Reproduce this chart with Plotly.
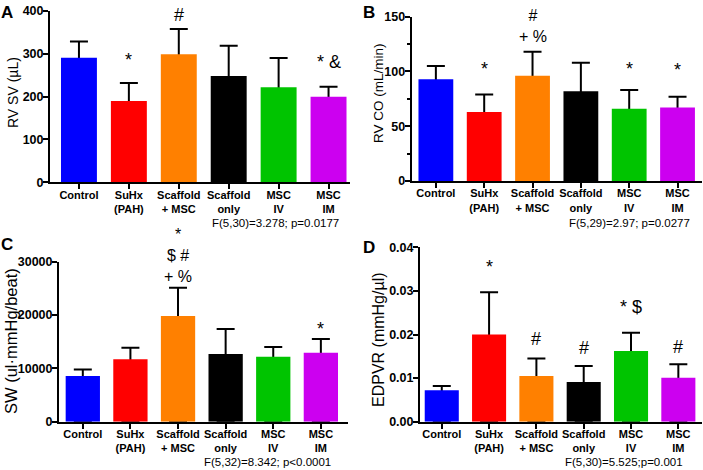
import plotly.graph_objects as go

W, H = 703, 470
FONT = "Arial, Liberation Sans, Helvetica, sans-serif"

groups = ["Control", "SuHx<br>(PAH)", "Scaffold<br>+ MSC", "Scaffold<br>only", "MSC<br>IV", "MSC<br>IM"]
colors = ["#0000FF", "#FF0000", "#FF8000", "#000000", "#00C400", "#CC00F0"]

# A: RV stroke volume (uL), mean and upper SD
rv_sv = [291, 190, 299, 248, 222, 200]
rv_sv_sd = [38, 42, 59, 71, 68, 23]
# B: RV cardiac output (mL/min)
rv_co = [93, 63, 96, 82, 66, 67]
rv_co_sd = [12, 16, 22, 26, 17, 10]
# C: stroke work (ul*mmHg/beat)
sw = [8560, 11690, 19810, 12690, 12190, 12940]
sw_sd = [1250, 2190, 5320, 4690, 1810, 2560]
# D: EDPVR (mmHg/ul)
edpvr = [0.0072, 0.0200, 0.0105, 0.0091, 0.0162, 0.0101]
edpvr_sd = [0.0010, 0.0097, 0.0040, 0.0037, 0.0042, 0.0031]

# significance marks: (group index, text, pixels above the error cap, font size)
sig_a = [(1, "*", 23, 18), (2, "#", 14, 18), (5, "* &", 25, 18)]
sig_b = [(2, "#<br>+ %", 26, 16), (1, "*", 25, 18), (4, "*", 21, 18), (5, "*", 27, 18)]
sig_c = [(2, "*<br>$ #<br>+ %", 32, 16), (5, "*", 10, 18)]
sig_d = [(1, "*", 25, 18), (4, "* $", 26, 18), (2, "#", 19.5, 18), (3, "#", 18, 18),
         (5, "#", 17, 18)]

stats = ["F(5,30)=3.278; p=0.0177", "F(5,29)=2.97; p=0.0277",
         "F(5,32)=8.342; p<0.0001", "F(5,30)=5.525;p=0.001"]


def px(x):
    return x / W


def py(y):
    return 1 - y / H


# pixel boxes of each plot area: left, right, top, bottom
panels = [
    dict(letter="A", title="RV SV (µL)", tsize=14, mean=rv_sv, sd=rv_sv_sd, sig=sig_a,
         box=(50, 350, 11, 182.3), xr=[-0.58, 5.43], yr=[0, 400], dtick=100,
         minor=False, fmt="d", lx=7.5, ly=12.5, tx=13, ty=93, sx=341, sy=223),
    dict(letter="B", title="RV CO (mL/min)", tsize=13.5, mean=rv_co, sd=rv_co_sd, sig=sig_b,
         box=(411.7, 701.7, 16.7, 181), xr=[-0.5, 5.5], yr=[0, 150], dtick=50,
         minor=True, fmt="d", lx=369, ly=12.5, tx=378, ty=93, sx=692, sy=223),
    dict(letter="C", title="SW (ul·mmHg/beat)", tsize=16.5, mean=sw, sd=sw_sd, sig=sig_c,
         box=(59, 348, 261.7, 421.7), xr=[-0.5, 5.57], yr=[0, 30000], dtick=10000,
         minor=False, fmt="d", lx=7.5, ly=244, tx=11, ty=341, sx=333, sy=462),
    dict(letter="D", title="EDPVR (mmHg/µl)", tsize=16, mean=edpvr, sd=edpvr_sd, sig=sig_d,
         box=(420, 702, 247.3, 421.7), xr=[-0.46, 5.5], yr=[0, 0.04], dtick=0.01,
         minor=False, fmt=".2f", lx=369, ly=247.5, tx=378, ty=340, sx=685, sy=462),
]

fig = go.Figure()
annotations = []
layout = {}

for i, p in enumerate(panels):
    n = "" if i == 0 else str(i + 1)
    xa, ya = "x" + n, "y" + n
    cats = list(range(len(groups)))
    # error bars carried by an invisible bar underneath the visible one
    fig.add_trace(go.Bar(
        x=cats, y=p["mean"], xaxis=xa, yaxis=ya, width=0.72,
        marker=dict(color="rgba(0,0,0,0)", line=dict(width=0)),
        error_y=dict(type="data", symmetric=False, array=p["sd"],
                     arrayminus=p["mean"], color="black", thickness=2, width=9),
        showlegend=False, hoverinfo="skip",
    ))
    fig.add_trace(go.Bar(
        x=cats, y=p["mean"], xaxis=xa, yaxis=ya, width=0.72,
        marker=dict(color=colors, line=dict(width=0)), showlegend=False,
    ))
    l, r, t, b = p["box"]
    layout["xaxis" + n] = dict(
        domain=[px(l), px(r)], range=p["xr"], anchor=ya, automargin=False,
        tickmode="array", tickvals=cats, ticktext=groups, ticklabelstandoff=-4,
        showline=True, linecolor="black", linewidth=2,
        ticks="outside", ticklen=5, tickwidth=2, tickcolor="black",
        tickfont=dict(family=FONT, size=11, color="black", weight="bold"),
        showgrid=False, zeroline=False, fixedrange=True,
    )
    yax = dict(
        domain=[py(b), py(t)], range=p["yr"], anchor=xa, dtick=p["dtick"], tick0=0,
        automargin=False, tickformat=p["fmt"], ticklabelstandoff=-3,
        showline=True, linecolor="black", linewidth=2,
        ticks="outside", ticklen=5, tickwidth=2, tickcolor="black",
        tickfont=dict(family=FONT, size=12.5, color="black", weight="bold"),
        showgrid=False, zeroline=False, fixedrange=True,
    )
    if p["minor"]:
        yax["minor"] = dict(ticks="outside", ticklen=3, tickwidth=2,
                            tickcolor="black", dtick=p["dtick"] / 2, showgrid=False)
    layout["yaxis" + n] = yax

    for gi, txt, shift, size in p["sig"]:
        annotations.append(dict(
            x=gi, y=p["mean"][gi] + p["sd"][gi], xref=xa, yref=ya, text=txt,
            showarrow=False, xanchor="center", yanchor="middle", yshift=shift,
            font=dict(family=FONT, size=size, color="black"),
        ))
    annotations.append(dict(
        x=px(p["lx"]), y=py(p["ly"]), xref="paper", yref="paper", text=p["letter"],
        showarrow=False, xanchor="center", yanchor="middle",
        font=dict(family=FONT, size=17, color="black", weight="bold"),
    ))
    annotations.append(dict(
        x=px(p["tx"]), y=py(p["ty"]), xref="paper", yref="paper", text=p["title"],
        textangle=-90, showarrow=False, xanchor="center", yanchor="middle",
        font=dict(family=FONT, size=p["tsize"], color="black"),
    ))
    annotations.append(dict(
        x=px(p["sx"]), y=py(p["sy"]), xref="paper", yref="paper", text=stats[i],
        showarrow=False, xanchor="right", yanchor="middle",
        font=dict(family=FONT, size=11.5, color="black"),
    ))

fig.update_layout(
    width=W, height=H, margin=dict(l=0, r=0, t=0, b=0),
    paper_bgcolor="white", plot_bgcolor="white",
    barmode="overlay", annotations=annotations,
    font=dict(family=FONT, color="black"),
    **layout,
)

# the page's default body margin would push the fixed-size figure off by 8px
fig.write_html("out.html", config={"displayModeBar": False},
               post_script="document.body.style.margin='0';")
